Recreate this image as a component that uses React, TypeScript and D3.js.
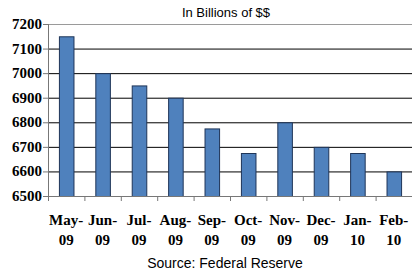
import React, { useEffect, useRef } from 'react';
import * as d3 from 'd3';

const months = ['May-', 'Jun-', 'Jul-', 'Aug-', 'Sep-', 'Oct-', 'Nov-', 'Dec-', 'Jan-', 'Feb-'];
const years = ['09', '09', '09', '09', '09', '09', '09', '09', '10', '10'];
const values = [7150, 7000, 6950, 6900, 6775, 6675, 6800, 6700, 6675, 6600];
const yTicks = [6500, 6600, 6700, 6800, 6900, 7000, 7100, 7200];

function App() {
  const svgRef = useRef<SVGSVGElement>(null);

  useEffect(() => {
    if (!svgRef.current) return;
    const width = 412;
    const height = 278;
    const margin = { top: 24, right: 0, bottom: 82, left: 48 };

    const svg = d3.select(svgRef.current);
    svg.selectAll('*').remove();

    const x = d3.scaleBand<number>()
      .domain(d3.range(values.length))
      .range([margin.left, width - margin.right])
      .paddingInner(0.6)
      .paddingOuter(0.3);

    const y = d3.scaleLinear()
      .domain([6500, 7200])
      .range([height - margin.bottom, margin.top]);

    const step = x.step();

    // gridlines
    svg.append('g')
      .selectAll('line')
      .data(yTicks.filter(d => d > 6500))
      .join('line')
      .attr('x1', margin.left)
      .attr('x2', width - margin.right)
      .attr('y1', d => y(d) + 0.5)
      .attr('y2', d => y(d) + 0.5)
      .attr('stroke', d => d === 7200 ? '#9a9a9a' : '#000')
      .attr('stroke-width', 1);

    // bars
    svg.append('g')
      .selectAll('rect')
      .data(values)
      .join('rect')
      .attr('x', (d, i) => x(i)! + 0.5)
      .attr('y', d => y(d) + 0.5)
      .attr('width', x.bandwidth())
      .attr('height', d => y(6500) - y(d))
      .attr('fill', '#4F81BD')
      .attr('stroke', '#1f3558')
      .attr('stroke-width', 1);

    // left axis
    const yAxis = svg.append('g');
    yAxis.append('line')
      .attr('x1', margin.left + 0.5).attr('x2', margin.left + 0.5)
      .attr('y1', y(7200)).attr('y2', y(6500))
      .attr('stroke', '#777');
    yAxis.selectAll('line.tick')
      .data(yTicks)
      .join('line')
      .attr('class', 'tick')
      .attr('x1', margin.left - 5).attr('x2', margin.left)
      .attr('y1', d => y(d) + 0.5).attr('y2', d => y(d) + 0.5)
      .attr('stroke', '#777');
    yAxis.selectAll('text')
      .data(yTicks)
      .join('text')
      .attr('x', margin.left - 6)
      .attr('y', d => y(d) + 5)
      .attr('text-anchor', 'end')
      .attr('font-family', '"Liberation Serif", "Times New Roman", serif')
      .attr('font-weight', 'bold')
      .attr('font-size', '15px')
      .attr('fill', '#000')
      .text(d => d);

    // bottom axis
    const xAxis = svg.append('g');
    xAxis.append('line')
      .attr('x1', margin.left).attr('x2', width - margin.right)
      .attr('y1', y(6500) + 0.5).attr('y2', y(6500) + 0.5)
      .attr('stroke', '#777');
    xAxis.selectAll('line.tick')
      .data(d3.range(values.length + 1))
      .join('line')
      .attr('class', 'tick')
      .attr('x1', i => margin.left + i * step + 0.5)
      .attr('x2', i => margin.left + i * step + 0.5)
      .attr('y1', y(6500)).attr('y2', y(6500) + 5)
      .attr('stroke', '#777');
    const labels = xAxis.selectAll('text')
      .data(months)
      .join('text')
      .attr('text-anchor', 'middle')
      .attr('font-family', '"Liberation Serif", "Times New Roman", serif')
      .attr('font-weight', 'bold')
      .attr('font-size', '15px')
      .attr('fill', '#000');
    labels.append('tspan')
      .attr('x', (d, i) => x(i)! + x.bandwidth() / 2)
      .attr('y', 225)
      .text(d => d);
    labels.append('tspan')
      .attr('x', (d, i) => x(i)! + x.bandwidth() / 2)
      .attr('y', 245)
      .text((d, i) => years[i]);

    svg.append('text')
      .attr('x', 226)
      .attr('y', 17)
      .attr('text-anchor', 'middle')
      .attr('font-family', '"Liberation Sans", Arial, sans-serif')
      .attr('font-size', '13px')
      .attr('fill', '#000')
      .text('In Billions of $$');

    svg.append('text')
      .attr('x', 225)
      .attr('y', 268)
      .attr('text-anchor', 'middle')
      .attr('font-family', '"Liberation Sans", Arial, sans-serif')
      .attr('font-size', '14px')
      .attr('fill', '#000')
      .text('Source: Federal Reserve');
  }, []);

  return (
    <svg ref={svgRef} width={412} height={278}
      style={{ position: 'absolute', left: 0, top: 0, background: '#fff' }} />
  );
}

export default App;
